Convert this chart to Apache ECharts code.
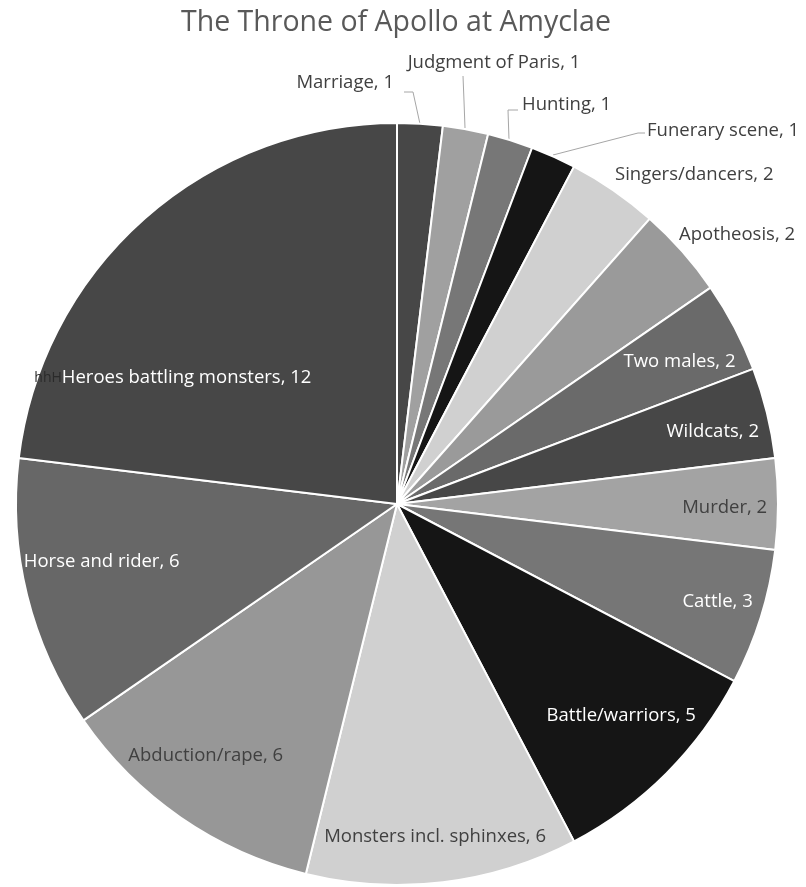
<!DOCTYPE html>
<html>
<head>
<meta charset="utf-8">
<title>The Throne of Apollo at Amyclae</title>
<script src="https://cdn.jsdelivr.net/npm/echarts@6/dist/echarts.min.js"></script>
<style>
  html, body { margin: 0; padding: 0; background: #ffffff; }
  #chart { width: 806px; height: 887px; }
</style>
</head>
<body>
<div id="chart"></div>
<script>
// Subjects on the throne, clockwise from twelve o'clock
const categories = [
  'Marriage', 'Judgment of Paris', 'Hunting', 'Funerary scene', 'Singers/dancers',
  'Apotheosis', 'Two males', 'Wildcats', 'Murder', 'Cattle', 'Battle/warriors',
  'Monsters incl. sphinxes', 'Abduction/rape', 'Horse and rider', 'Heroes battling monsters'
];
const counts = [1, 1, 1, 1, 2, 2, 2, 2, 2, 3, 5, 6, 6, 6, 12];

// Slice fills (greyscale) and label colours
const fills = [
  '#474747', '#a0a0a0', '#777777', '#151515', '#d0d0d0',
  '#9a9a9a', '#6a6a6a', '#474747', '#a3a3a3', '#767676',
  '#151515', '#d0d0d0', '#979797', '#676767', '#474747'
];
const LIGHT = '#ffffff', DARK = '#404040';
const textColors = [
  DARK, DARK, DARK, DARK, DARK,
  DARK, LIGHT, LIGHT, DARK, LIGHT,
  LIGHT, DARK, DARK, LIGHT, LIGHT
];

// Pie geometry
const CX = 397, CY = 504, R = 381;
const FONT = '"Open Sans", Lato, sans-serif';

// Label placement. Inside labels: [radius fraction, angle nudge in degrees].
// Outside labels: anchor offsets from the pie centre plus leader-line offsets.
const insideSpots = {
  6: [0.83, 1], 7: [0.85, 1], 8: [0.86, 0.7], 9: [0.88, -0.3], 10: [0.81, -1.6],
  11: [0.88, 0.4], 12: [0.83, 2.6], 13: [0.79, 2.7], 14: [0.675, -19.1]
};
const outsideSpots = {
  0: { at: [-3, -421], align: 'right', line: [[23, -380], [16, -412], [7, -412]] },
  1: { at: [97, -441], align: 'center', line: [[68, -376], [67, -403], [66, -428]] },
  2: { at: [125, -399], align: 'left', line: [[112, -364], [111, -394], [121, -394]] },
  3: { at: [250, -373], align: 'left', line: [[156, -349], [241, -371], [248, -371]] },
  4: { at: [218, -329], align: 'left', line: null },
  5: { at: [282, -269], align: 'left', line: null }
};

const total = counts.reduce((a, b) => a + b, 0);
const midAngles = [];
let acc = 0;
counts.forEach(v => { midAngles.push((acc + v / 2) / total * 360); acc += v; });

const seriesData = categories.map((name, i) => ({
  name: name,
  value: counts[i],
  itemStyle: { color: fills[i] },
  label: {
    color: textColors[i],
    position: outsideSpots[i] ? 'outside' : 'inside'
  },
  labelLine: { show: !!(outsideSpots[i] && outsideSpots[i].line) }
}));

const chart = echarts.init(document.getElementById('chart'), null, { renderer: 'canvas' });

chart.setOption({
  backgroundColor: '#ffffff',
  animation: false,
  title: {
    text: 'The Throne of Apollo at Amyclae',
    left: 176,
    top: 3,
    textStyle: { fontFamily: FONT, fontSize: 28.5, fontWeight: 'normal', color: '#595959' }
  },
  series: [{
    type: 'pie',
    center: [CX, CY],
    radius: R,
    startAngle: 90,
    clockwise: true,
    avoidLabelOverlap: false,
    itemStyle: { borderColor: '#ffffff', borderWidth: 2 },
    label: {
      show: true,
      fontFamily: FONT,
      fontSize: 18.5,
      formatter: function (p) {
        if (p.dataIndex === 14) return '{tag|hhH}{main|' + p.name + ', ' + p.value + '}';
        return p.name + ', ' + p.value;
      },
      rich: {
        tag: { fontFamily: FONT, fontSize: 14, color: '#2a2a2a' },
        main: { fontFamily: FONT, fontSize: 18.5, color: '#ffffff' }
      }
    },
    labelLine: {
      length: 10,
      length2: 10,
      lineStyle: { color: '#a6a6a6', width: 1 }
    },
    labelLayout: function (params) {
      const i = params.dataIndex;
      if (outsideSpots[i]) {
        const s = outsideSpots[i];
        const out = {
          x: CX + s.at[0], y: CY + s.at[1],
          align: s.align, verticalAlign: 'middle'
        };
        if (s.line) out.labelLinePoints = s.line.map(p => [CX + p[0], CY + p[1]]);
        return out;
      }
      const spot = insideSpots[i];
      const a = (midAngles[i] + spot[1]) * Math.PI / 180;
      return {
        x: CX + spot[0] * R * Math.sin(a),
        y: CY - spot[0] * R * Math.cos(a),
        align: 'center', verticalAlign: 'middle'
      };
    },
    data: seriesData
  }]
});
</script>
</body>
</html>
